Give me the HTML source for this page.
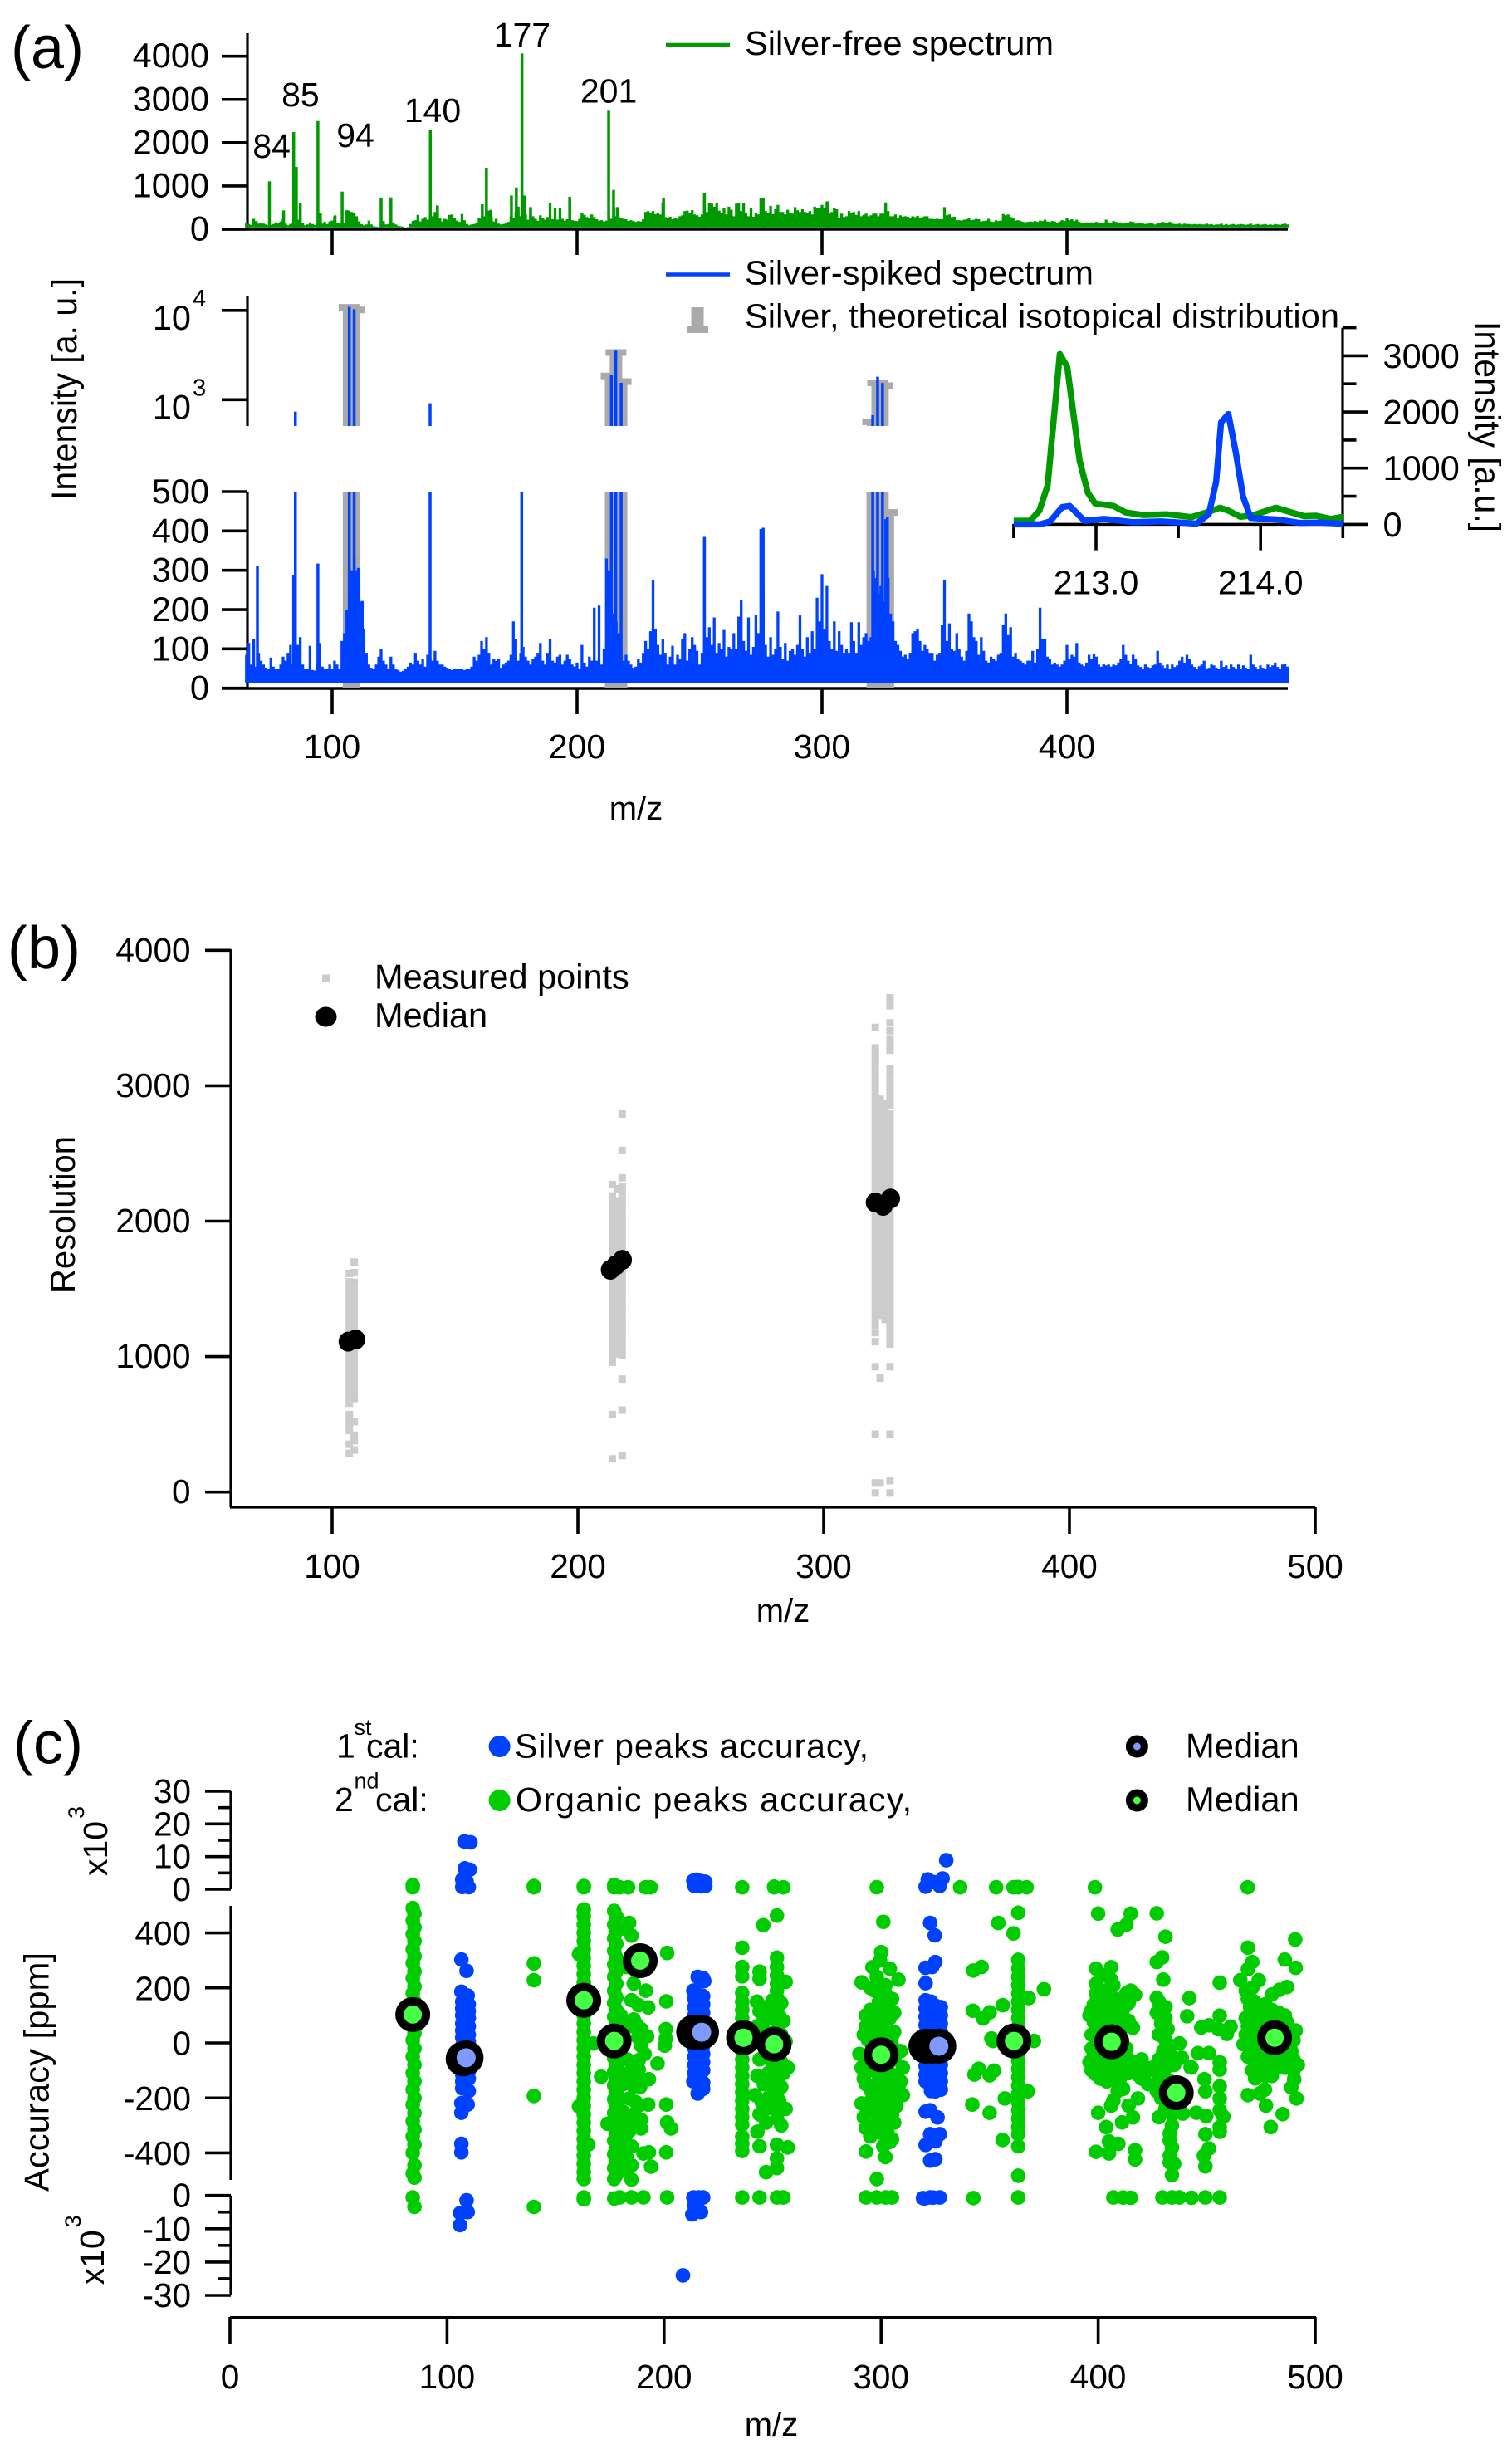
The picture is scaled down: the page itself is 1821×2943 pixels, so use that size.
<!DOCTYPE html>
<html lang="en">
<head>
<meta charset="utf-8">
<title>Mass spectra, resolution and accuracy</title>
<style>
html,body{margin:0;padding:0;background:#fff;}
svg{display:block;}
text{font-family:"Liberation Sans",Arial,sans-serif;fill:#000;}
</style>
</head>
<body>
<svg id="chart" xmlns="http://www.w3.org/2000/svg" width="1821" height="2943" viewBox="0 0 1821 2943">
<defs>
<clipPath id="clip-log"><rect x="290" y="340" width="1270" height="173"/></clipPath>
<clipPath id="clip-lin"><rect x="290" y="592" width="1270" height="246"/></clipPath>
<clipPath id="clip-inset"><rect x="1215" y="394" width="402" height="245"/></clipPath>
</defs>
<rect x="0" y="0" width="1821" height="2943" fill="#fff"/>

<g id="panel-a">
<text x="13" y="82" font-size="72">(a)</text>
<line x1="298" y1="40" x2="298" y2="276" stroke="#000" stroke-width="3.2"/>
<line x1="267" y1="276" x2="1551" y2="276" stroke="#000" stroke-width="3.5"/>
<line x1="298" y1="356" x2="298" y2="513" stroke="#000" stroke-width="3.2"/>
<line x1="298" y1="592" x2="298" y2="829" stroke="#000" stroke-width="3.2"/>
<line x1="267" y1="829" x2="1551" y2="829" stroke="#000" stroke-width="3.5"/>
<text x="0" y="0" transform="translate(92,602) rotate(-90)" font-size="43" textLength="267" lengthAdjust="spacingAndGlyphs">Intensity [a. u.]</text>
<text x="766" y="987" font-size="40" text-anchor="middle">m/z</text>
<g id="a-marks"></g>
<line x1="802" y1="54" x2="879" y2="54" stroke="#009900" stroke-width="4.5"/>
<text x="897" y="66" font-size="41" textLength="372" lengthAdjust="spacingAndGlyphs">Silver-free spectrum</text>
<line x1="802" y1="330.5" x2="879" y2="330.5" stroke="#0040ff" stroke-width="4.5"/>
<text x="897" y="342.5" font-size="41" textLength="420" lengthAdjust="spacingAndGlyphs">Silver-spiked spectrum</text>
<rect x="832.5" y="370" width="15" height="24" fill="#aaa"/>
<rect x="828" y="393" width="25" height="8" fill="#aaa"/>
<text x="897" y="394.6" font-size="41" textLength="716" lengthAdjust="spacingAndGlyphs">Silver, theoretical isotopical distribution</text>
<line x1="1221" y1="631.4" x2="1617" y2="631.4" stroke="#000" stroke-width="3.5"/>
<line x1="1617" y1="394.6" x2="1617" y2="633" stroke="#000" stroke-width="3.2"/>
<g id="inset-marks"></g>
<text x="0" y="0" transform="translate(1777,387) rotate(90)" font-size="43" textLength="254" lengthAdjust="spacingAndGlyphs">Intensity [a.u.]</text>
</g>

<g id="panel-b">
<text x="9" y="1166" font-size="72">(b)</text>
<line x1="278" y1="1143" x2="278" y2="1815" stroke="#000" stroke-width="3.2"/>
<line x1="277" y1="1815" x2="1584" y2="1815" stroke="#000" stroke-width="3.2"/>
<text x="0" y="0" transform="translate(90,1557) rotate(-90)" font-size="42" textLength="189" lengthAdjust="spacingAndGlyphs">Resolution</text>
<text x="943" y="1953" font-size="40" text-anchor="middle">m/z</text>
<rect x="388" y="1173.5" width="9" height="9" fill="#ccc"/>
<text x="451" y="1190.5" font-size="41.5">Measured points</text>
<ellipse cx="392.5" cy="1224.5" rx="13" ry="12" fill="#000"/>
<text x="451" y="1237" font-size="41.5">Median</text>
<g id="b-marks"></g>
</g>

<g id="panel-c">
<text x="16" y="2123.5" font-size="72">(c)</text>
<line x1="278" y1="2157" x2="278" y2="2275" stroke="#000" stroke-width="3.2"/>
<line x1="278" y1="2295" x2="278" y2="2625" stroke="#000" stroke-width="3.2"/>
<line x1="278" y1="2643.7" x2="278" y2="2764" stroke="#000" stroke-width="3.2"/>
<line x1="277" y1="2790.6" x2="1585" y2="2790.6" stroke="#000" stroke-width="3.2"/>
<g transform="translate(129,2259) rotate(-90)">
<text x="0" y="0" font-size="41">x10</text><text x="69" y="-28" font-size="27">3</text>
</g>
<g transform="translate(125,2751.4) rotate(-90)">
<text x="0" y="0" font-size="41">x10</text><text x="69" y="-28" font-size="27">3</text>
</g>
<text x="0" y="0" transform="translate(58.5,2639) rotate(-90)" font-size="41.5" textLength="288" lengthAdjust="spacingAndGlyphs">Accuracy [ppm]</text>
<text x="929" y="2933" font-size="40" text-anchor="middle">m/z</text>
<text x="405" y="2116.6" font-size="41">1</text>
<text x="426.5" y="2089" font-size="27">st</text>
<text x="441" y="2116.6" font-size="41">cal:</text>
<text x="403" y="2181" font-size="41">2</text>
<text x="426.5" y="2153.5" font-size="27">nd</text>
<text x="452" y="2181" font-size="41">cal:</text>
<circle cx="601.6" cy="2103" r="13" fill="#0040ff"/>
<circle cx="601.6" cy="2168" r="13" fill="#00cc00"/>
<text x="620" y="2116.6" font-size="41" textLength="426">Silver peaks accuracy,</text>
<text x="621" y="2181" font-size="41" textLength="477">Organic peaks accuracy,</text>
<circle cx="1369.4" cy="2103" r="9" fill="#8099ff" stroke="#000" stroke-width="9"/>
<circle cx="1369.4" cy="2168" r="9" fill="#44ff44" stroke="#000" stroke-width="9"/>
<text x="1428" y="2116.6" font-size="41.7">Median</text>
<text x="1428" y="2181" font-size="41.7">Median</text>
<g id="c-marks"></g>
</g>
</svg>

<script>
// ---------- Panel (a) data ----------
const topTicks = [0, 1000, 2000, 3000, 4000];
const linearTicks = [0, 100, 200, 300, 400, 500];
const logTicks = [1000, 10000];
const logExponents = ['3', '4'];
const spectrumMzTicks = [100, 200, 300, 400];
const peakLabelMz = ['84', '85', '94', '140', '177', '201'];
const peakLabelIntensity = [1651, 2842, 1900, 2477, 4224, 2930];
const peakLabelCenterMz = [75.3, 87.1, 109.5, 141, 177.6, 212.9];

const spectrumStartMz = 65;
const greenEnvelope = [
160,120,100,240,190,130,150,130,110,90,100,120,160,140,180,240,130,90,120,150,
160,220,300,140,90,110,160,120,100,130,260,130,170,120,180,200,290,150,140,110,
150,440,430,400,380,300,180,120,90,110,200,110,70,60,50,120,190,110,120,150,
160,110,80,70,60,40,50,120,190,210,330,180,240,280,220,260,300,400,540,260,
180,240,220,330,340,260,200,170,350,210,120,90,110,120,150,250,240,300,220,430,
300,180,240,130,110,120,150,170,300,250,400,520,300,620,340,220,460,300,240,200,
320,250,220,280,600,230,500,220,490,240,200,230,660,210,200,190,240,380,330,280,
260,340,280,230,200,210,180,200,260,240,500,300,280,260,240,230,190,210,190,170,
190,180,230,400,420,390,420,350,380,340,620,280,260,290,230,260,240,300,320,420,
430,380,440,340,320,290,340,720,400,600,590,520,600,430,370,480,340,520,450,300,
590,600,420,610,380,300,500,290,380,340,730,350,420,380,540,350,460,560,400,400,
340,450,380,360,510,440,400,460,400,380,420,340,520,500,480,560,480,640,360,400,
480,460,270,360,280,300,420,380,400,330,420,300,330,360,300,320,360,360,300,360,
360,620,420,300,300,340,260,320,290,300,290,260,300,280,310,270,280,300,300,240,
240,230,240,230,230,510,320,340,280,290,210,210,200,220,230,260,210,220,240,230,
180,190,200,240,180,170,210,190,200,350,320,340,280,250,200,210,190,170,160,170,
180,170,190,170,200,190,220,180,170,190,180,150,180,210,190,250,210,230,190,220,
170,150,140,160,150,160,140,170,150,150,140,220,160,150,190,170,140,160,130,150,
140,180,170,130,140,140,130,120,130,150,130,110,150,140,170,160,150,170,130,120,
120,130,110,130,120,120,110,120,110,120,110,110,130,110,120,100,110,110,130,100,
120,100,110,120,100,110,120,110,100,110,130,100,110,120,100,110,120,100,110,100,
120,110,100,120,130,110];
const greenPeakMz = [74.4,80.2,84.3,85.4,87,94.2,95.2,101.2,104.1,120,124,140.1,143,161.3,163,164.8,173.2,175.2,177.5,178.5,181,197,212.9,214.9,216.4,235.3,252,276,302.4];
const greenPeakIntensity = [1107,435,2246,1440,608,2500,370,320,870,717,736,2304,550,576,1420,448,780,966,4064,780,512,750,2740,910,512,730,832,730,646];

const blueEnvelope = [
85,115,60,125,55,90,70,60,52,48,78,55,48,50,60,80,70,90,110,60,
120,110,130,60,50,48,108,46,45,60,115,55,48,50,60,48,70,60,50,120,
140,200,250,300,340,300,270,220,150,90,60,52,50,60,80,100,70,60,50,80,
60,48,46,42,44,48,55,65,60,90,70,60,75,55,85,80,70,95,70,60,
60,55,52,50,46,50,48,50,48,46,50,48,55,80,70,85,120,100,130,90,
60,75,70,75,52,60,65,70,85,170,125,70,90,105,80,70,60,75,80,90,
115,70,60,90,125,70,65,80,85,60,70,85,75,60,55,65,50,110,65,55,
80,70,205,70,210,60,100,330,300,160,190,170,140,90,70,85,70,60,52,55,
75,65,90,120,100,145,275,150,110,85,125,90,60,80,108,60,85,75,125,140,
70,100,130,110,95,60,90,380,130,155,110,180,90,115,100,148,80,105,100,140,
100,182,225,120,95,180,85,105,186,140,405,260,110,80,130,85,100,195,105,75,
115,70,95,100,85,110,185,100,80,130,90,145,100,230,170,290,150,260,120,100,
170,95,145,110,90,100,90,168,120,90,168,110,130,140,120,130,300,280,240,260,
220,430,280,190,170,120,110,95,80,85,75,90,140,145,150,120,95,110,100,90,
90,70,85,90,160,275,120,165,100,95,140,100,80,70,95,190,170,130,120,85,
130,95,70,65,80,75,70,85,90,160,190,135,155,80,90,75,70,65,60,70,
70,95,65,100,205,125,125,80,75,60,65,60,55,60,70,110,75,85,80,115,
65,60,56,65,85,75,88,80,60,55,62,58,60,55,60,58,65,75,110,85,
70,62,85,75,58,54,50,60,54,52,58,60,95,65,58,52,60,50,60,54,
58,70,80,65,85,75,60,54,50,56,60,70,50,52,60,58,52,50,70,54,
58,50,60,54,50,60,50,58,52,50,85,60,54,50,58,52,50,60,54,58,
65,54,50,60,62,55];
const bluePeakMz = [69.5,84.3,85,94.2,107,109,110.7,112.3,140,177.4,214,215.8,218,252,276,320.7,322.7,324.7,326.7];
const bluePeakIntensity = [310,288,735,317,10970,10300,306,222,912,505,1916,3540,1545,385,408,670,1808,1540,435];

const silverMz = [106.9,109.0,213.9,215.9,218.0,320.7,322.7,324.7,326.9];
const silverIntensity = [10820,10120,1845,3376,1592,566,1545,1435,447];

// Inset
const insetTicksMajor = [213, 214];
const insetTickLabels = ['213.0', '214.0'];
const insetTicksMinor = [212.5, 213.5, 214.5];
const insetYTicks = [0, 1000, 2000, 3000];
const insetYMinor = [500, 1500, 2500, 3500];
const insetGreenMz = [212.5,212.6,212.656,212.706,212.78,212.825,212.9,212.95,212.994,213.107,213.18,213.285,213.433,213.58,213.685,213.754,213.804,213.878,213.953,214.092,214.264,214.338,214.427,214.5];
const insetGreenI = [64,64,244,692,3029,2805,1138,564,372,327,212,167,179,128,224,295,244,135,160,295,147,154,96,135];
const insetBlueMz = [212.5,212.66,212.72,212.795,212.84,212.93,213.05,213.225,213.4,213.61,213.685,213.73,213.76,213.804,213.85,213.893,213.94,214.116,214.234,214.353,214.5];
const insetBlueI = [0,0,51,308,327,64,96,38,51,13,179,756,1814,1962,1269,500,115,83,26,32,13];

// ---------- Panel (b) data ----------
const resolutionYTicks = [0, 1000, 2000, 3000, 4000];
const resolutionXTicks = [100, 200, 300, 400, 500];
const resolutionMz = [107,109,214,216,218,321,323,325,327];
const res107 = [1614,1552,1498,1447,1391,1340,1288,1233,1180,1127,1075,1021,970,918,866,812,760,706,656,572,540,504,454,353,286];
const res109 = [1698,1620,1547,1490,1438,1384,1330,1275,1222,1168,1115,1062,1010,955,900,848,795,741,690,520,420,380,310];
const res214 = [2270,2186,2131,2077,2023,1970,1915,1860,1806,1752,1699,1645,1590,1537,1484,1430,1376,1322,1270,1215,1160,1107,1052,1000,958,572,245];
const res216 = [2240,2150,2095,2040,1985,1930,1875,1820,1765,1710,1655,1600,1545,1490,1435,1380,1325,1270,1215,1160,1105,1050,1020];
const res218 = [2791,2522,2320,2253,2220,2165,2110,2055,2000,1945,1890,1835,1780,1725,1670,1615,1560,1505,1450,1395,1340,1285,1230,1175,1120,1065,1009,834,605,269];
const res321 = [3430,3279,3228,3175,3120,3066,3012,2958,2905,2850,2796,2742,2688,2634,2580,2526,2472,2421,2368,2314,2260,2206,2152,2098,2044,1990,1936,1882,1828,1774,1720,1666,1612,1558,1504,1450,1396,1342,1288,1234,1177,1110,925,427,67,-7];
const res323 = [2900,2845,2790,2735,2680,2625,2570,2515,2460,2405,2350,2295,2240,2185,2130,2075,2020,1965,1910,1855,1800,1745,1690,1635,1580,1525,1470,1415,1360,1305,841,67];
const res325 = [2870,2815,2760,2705,2650,2595,2540,2485,2430,2375,2320,2265,2210,2155,2100,2045,1990,1935,1880,1825,1770,1715,1660,1605,1550,1495,1440,1385,1330,1275];
const res327 = [3649,3590,3464,3405,3346,3296,3262,3128,3075,3020,2965,2910,2859,2790,2735,2680,2625,2570,2515,2460,2405,2350,2295,2240,2185,2130,2075,2020,1965,1910,1855,1800,1745,1690,1635,1580,1525,1470,1415,1360,1305,1250,1197,1143,1093,925,427,84,-7];
const medianMzB = [106.5,109.6,213.2,215.5,218.1,321,324.2,327.2];
const medianResB = [1110,1126,1641,1675,1714,2138,2113,2167];

// ---------- Panel (c) data ----------
const accuracyXTicks = [0, 100, 200, 300, 400, 500];
const accuracyTopTicks = [0, 10, 20, 30];
const accuracyTopMinor = [5, 15, 25];
const accuracyMidTicks = [-400, -200, 0, 200, 400];
const accuracyBottomTicks = [0, -10, -20, -30];
const accuracyBottomMinor = [-5, -15, -25];

const organicColumnMz = [84.2, 85, 163, 177, 178, 236, 252, 363.2];
const col84a = [600,1270,490,445,395,340,290,235,180,120,65,10,-50,-110,-170,-225,-285,-340,-400,-475,-600];
const col84b = [470,420,370,315,260,205,150,95,35,-20,-80,-140,-200,-255,-315,-370,-445,-490,-3450];
const col163 = [600,1000,485,460,430,400,370,340,310,280,250,220,190,160,130,100,70,40,10,-20,-50,-80,-110,-140,-170,-200,-230,-260,-290,-320,-350,-380,-410,-440,-470,-495,-600,-1200];
const col177a = [1300,600,480,430,380,335,285,240,190,145,95,45,-5,-55,-105,-155,-205,-255,-305,-355,-405,-455,-495,-900];
const col177b = [460,405,360,310,260,215,165,120,70,20,-30,-80,-130,-180,-230,-280,-330,-380,-430,-480];
const col236 = [600,346,276,242,181,150,120,90,60,30,0,-30,-60,-90,-120,-150,-180,-210,-240,-270,-297,-341,-367,-393,-600];
const col252 = [463,310,276,245,215,190,165,135,105,80,50,20,-10,-40,-70,-100,-130,-160,-195,-225,-245,-275];
const col363 = [700,600,473,302,270,240,210,180,150,120,90,60,30,-5,-35,-65,-95,-125,-155,-185,-215,-245,-275,-306,-332,-376,-483,-600];
const organicColumnPpm = [col84a, col84b, col163, col177a, col177b, col236, col252, col363];

const organicPoints = [
[140,289],[140,228],[140,-193],[140,600],[140,1000],[140,-3450],[160.8,323],[160.8,-231],[165,-370],
[183.9,436],[185,390],[178.4,416],[181.7,416],[186,303],[182.8,276],[186,216],[191.6,190],[185,155],[188.3,137],[192.7,129],[186,85],[189.4,50],[192.2,24],[189.4,-10],[188.3,-63],[197,-75],[188.3,-97],[182.8,-115],[187.2,-132],[193,-132],[186,-158],[184,-202],[192.7,-224],[188.3,-228],[184,-280],[189.4,-280],[189.4,-311],[185,-376],[190.5,-402],[193,-398],[185,-445],[194,-450],[185,-497],[171,-123],[174,-294],[167.4,-2],
[180,100],[182,80],[184,60],[180,30],[183,-60],[179,-100],[181,-150],[179,-200],[181,-250],[180,-300],[182,-350],[180,-400],[183,-420],[181,-460],[184,-320],[186,-260],[187,-215],[185,-100],[189,-160],[191,-40],[188,20],[187,70],
[201.4,327],[201,151],[200.8,50],[200.8,16],[200.3,-10],[201,-224],[201.4,-289],[203.2,-311],[201,-398],
[179.5,600],[183.4,600],[191.5,600],[193.8,600],[179.5,-580],[185,-580],[190.5,-580],[201.4,-580],
[245.7,428],[243,-323],[244,-376],[244,-600],[252,-600],[255,-600],[255,600],[250.7,800],[250.7,600],[244,259],[244,233],[256,222],
[242.8,150],[247,130],[250,155],[254,145],[244,115],[248,90],[255,80],[243,60],[246,45],[254,30],[256,5],[244,-60],[247,-35],[250,-80],[254,-70],[257,-90],[243,-120],[246,-150],[255,-110],[242,-190],[245,-215],[250,-170],[253,-210],[256,-240],[244,-260],[247,-290],[257,-380],[252,-420],[252,-455],[247,-470],[252,-370],
[245,70],[249,120],[253,100],[246,0],[249,-10],[255,-20],[248,-110],[251,-140],[254,-160],[248,-200],[247,-240],[254,-300],
[298,620],[301,440],[300,330],[299.5,300],[296,275],[304,270],[291,220],[308,230],[298,240],[302,210],[297,190],[301,180],[305,160],[299,150],[303,130],[295,120],[300,110],[304,90],[297,70],[293,60],[301,50],[306,40],[298,25],[294,10],[303,5],[290,-40],[296,-30],[300,-20],[305,-10],[291,-90],[297,-75],[302,-70],[306,-60],[292,-130],[299,-120],[304,-110],[309,-140],[295,-170],[301,-160],[307,-180],[298,-210],[303,-200],[310,-190],[291,-220],[296,-250],[302,-240],[307,-230],[292,-270],[299,-280],[305,-260],[293,-310],[300,-300],[303,-330],[305,-350],[293,-395],[301,-375],[304,-360],[302,-415],[298,-495],[293,-600],[298,-600],[302,-600],[305,-600],
[295,200],[299,210],[303,170],[293,100],[297,100],[301,80],[306,110],[292,30],[296,20],[300,10],[305,25],[309,-30],[293,-60],[299,-50],[304,-35],[310,-90],[295,-100],[300,-90],[306,-120],[293,-150],[298,-150],[303,-140],[308,-160],[296,-200],[301,-190],[306,-210],[294,-230],[299,-240],[304,-225],[297,-300],[301,-270],[306,-290],[295,-340],[299,-325],
[342.5,263],[346.3,276],[342.3,117],[347,89],[350,111],[356,137],[350.8,16],[351.5,7],[370.4,7],[343,-115],[345,-94],[350,-118],[352,-101],[342,-224],[350,-254],[356,-353],[357,-202],[342.5,-800],[353,600],[354,436],[361,398],[361,600],[336.4,600],[367,600],[375,195],[368,163],[367.6,-176],
[398.5,600],[400,470],[415,470],[413,430],[409,412],[399,270],[406,275],[399,215],[402,245],[406,230],[397,120],[399,180],[401,160],[403,190],[405,140],[407,210],[409,130],[411,105],[413,180],[415,190],[417,175],[396,100],[398,75],[400,50],[402,85],[404,60],[406,35],[408,70],[410,45],[412,60],[414,80],[416,55],[397,-20],[399,-5],[401,15],[403,-25],[409,-15],[411,10],[413,-20],[396,-70],[398,-40],[400,-60],[402,-75],[404,-50],[406,-85],[408,-55],[410,-70],[412,-45],[414,-60],[399,-115],[403,-100],[405,-130],[408,-110],[412,-100],[416,-95],[418,-115],
[398,140],[402,130],[406,110],[410,95],[400,100],[404,100],[408,160],[412,130],[414,145],[397,30],[401,40],[405,10],[408,20],[397,-100],[400,-100],[403,-70],[406,-40],[409,-90],[411,-70],[398,-90],[401,-130],[404,-140],[407,-130],[410,-130],[414,-110],[418,-70],[421,-90],
[400,-254],[403.7,-306],[406,-228],[411.5,-167],[416,-271],[411,-289],[405,-358],[409.3,-367],[417,-390],[417,-424],[399,-396],[405,-402],[407,-210],[409,-175],[414,-228],[418.3,-202],[407,-600],[411.5,-620],[415,-700],
[427,471],[431,386],[429.5,311],[427,294],[430,230],[427,163],[442,163],[441,97],
[428,150],[431,130],[427,110],[431,90],[429,70],[432,50],[428,30],[431,10],[433,-10],[430,-30],[434,-50],[428,-60],[432,-85],[435,-80],[430,-110],[428,-130],[433,-140],[427,-175],[431,-165],[429,-200],[433,-215],[436,-200],[431,-240],[434,-260],[428,-270],[434,-300],[433,-330],[433,-355],[434,-380],[433,-410],[433,-435],[435,-440],[434,-480],
[420,-60],[423,-100],[425,-90],[420,-130],[423,-150],
[456,219],[456,99],[447.5,56],[451,64],[461,59],[455.4,50],[459.3,33],[446,-37],[451,-37],[456,-71],[456,-97],[442.6,-89],[449,-132],[456,-158],[456,-202],[456,-245],[457.7,-268],[456,-306],[456,-323],[449.4,-176],[445.3,-254],[449.8,-266],[439,-257],[449.4,-332],[451,-384],[448.7,-410],[449.4,-449],[437.4,-2],[432,-19],[438.5,-54],[443,-89],
[429.6,-600],[434,-600],[437.4,-600],[443,-700],[449.4,-600],[456,-600],
[468.9,600],[469,346],[471,294],[490.8,376],[486,303],[491,273],[469,268],[465.5,228],[474,228],[487,203],[483.5,193],[480,176],
[468,190],[471,200],[469,160],[472,150],[470,130],[473,110],[468,90],[471,75],[474,60],[477,140],[480,120],[483,110],[486,100],[476,90],[479,80],[482,60],[485,50],[488,35],[491,45],[468,30],[471,10],[467,-5],[474,20],[477,5],[480,-20],[483,-5],[486,0],[489,-30],[469,-50],[472,-40],[475,-60],[478,-50],[481,-65],[484,-70],[487,-55],[490,-60],[473,-80],[476,-90],[479,-100],[482,-90],
[470,100],[473,90],[475,130],[478,110],[481,90],[484,80],[487,75],[469,60],[472,40],[475,30],[478,30],[481,30],[484,20],[487,10],[490,10],[470,-20],[473,-20],[476,-20],[479,-25],[482,-35],[485,-35],[488,-60],[474,-100],[477,-120],[480,-120],[471,-100],[486,-90],[490,-100],
[492,-80],[490.3,-132],[489,-162],[491.4,-202],[476.8,-170],[472.3,-129],[469,-190],[474.5,-184],[477.3,-228],[485,-259],[479.5,-306]
];

const silverDenseMz = [107,110,214,216,218,320.5,323,325,327.5];
const silver107 = [150,125,100,70,45,20,-10,-35,-60,-90,-115,-140,-165];
const silver110 = [140,115,90,60,30,5,-25,-50,-80,-105,-130,-175];
const silver214 = [190,160,130,100,70,40,10,-20,-50,-80,-110,-140];
const silver216 = [165,135,105,75,45,15,-15,-45,-75,-105,-178];
const silver218 = [235,170,140,110,80,50,20,-10,-40,-70,-100,-145];
const silver321 = [155,125,95,65,35,5,-25,-55,-85,-115,-140];
const silver323 = [150,120,90,60,30,0,-30,-60,-90,-120,-150,-175];
const silver325 = [135,105,75,45,15,-15,-45,-75,-105,-135,-165];
const silver327 = [130,100,70,40,10,-20,-50,-80,-110,-140,-170];
const silverDensePpm = [silver107,silver110,silver214,silver216,silver218,silver321,silver323,silver325,silver327];
const silverPoints = [
[108,14650],[110.8,14400],[108.2,6400],[110.5,6000],[107,3000],[109,2400],[107,700],[110,650],
[106.6,303],[109,262],[106.6,186],[109.5,172],[106.6,-219],[109.5,-224],[106.6,-254],[106.6,-367],[106.6,-398],
[109,-1450],[106,-5300],[109.5,-5000],[106,-8900],
[213.5,2600],[215,2900],[217,2500],[219,2300],[214,1000],[217,900],[219,1000],
[215.5,240],[218.5,225],[213.5,190],[217.5,172],[213.5,-140],[218,-167],[215.5,-184],
[213.5,-600],[216,-600],[218,-600],[213,-5700],[217,-5000],[214,-3000],[216,-1500],[208.7,-24000],
[330,8900],[321.5,3000],[328.3,3300],[327,1000],[320.5,800],[324,2200],[322.6,436],[324.7,391],[325,294],[320.5,273],[323.5,276],[320.5,217],
[325,-176],[322.6,-245],[326,-271],[320.5,-250],[322.6,-332],[327,-332],[320.5,-371],[325,-358],[322.6,-428],[325,-423],
[319.3,-800],[322.6,-600],[327,-600],[320,-900],[324,-650]
];

const organicMedianMz = [84.2,163,177,189,236.6,250.7,300,361.2,406.2,436,481.3];
const organicMedianPpm = [103,155,7,299,19,-5,-43,7,4,-181,19];
const silverMedianMz = [107.4,108.8,213.6,217.3,320.6,323.5,326.6];
const silverMedianPpm = [-58,-54,39,39,-12,-12,-12];
const silverMedianHighlight = [108.8,217.3,326.6];

// ---------- Scales ----------
const xA = m => 400 + (m - 100) * 2.95;
const yTop = v => 276 - v * 0.05208;
const yLog = v => 481.3 - (Math.log10(v) - 3) * 107.5;
const yLin = v => 828.7 - v * 0.4734;
const xI = m => 1320 + (m - 213) * 198.2;
const yI = v => 631.4 - v * 0.06767;
const xB = m => 400 + (m - 100) * 2.96;
const yB = v => 1796.7 - v * 0.1631;
const xC = m => 277 + m * 2.614;
const yC = v => v >= 500 ? 2275 - v * 0.00393 : (v <= -500 ? 2643.7 - v * 0.00401 : 2460 - v * 0.3312);

// ---------- Helpers ----------
const NS = 'http://www.w3.org/2000/svg';
function mk(parent, tag, attrs) {
  const el = document.createElementNS(NS, tag);
  for (const k in attrs) el.setAttribute(k, attrs[k]);
  parent.appendChild(el);
  return el;
}
function axisTick(parent, x1, y1, x2, y2) {
  const el = mk(parent, 'line', {x1, y1, x2, y2, stroke: '#000', 'stroke-width': 3.6});
  
  
  return el;
}
function tickLabel(parent, x, y, txt, anchor, size) {
  const el = mk(parent, 'text', {x, y, 'text-anchor': anchor, 'font-size': size || 40.5});
  el.textContent = txt;
  
  
  return el;
}
function sticksPath(values, startMz, xf, yf, base) {
  let d = '';
  values.forEach((v, i) => {
    const x = xf(startMz + i).toFixed(1);
    d += 'M' + x + ' ' + yf(base).toFixed(1) + 'V' + yf(v).toFixed(1);
  });
  return d;
}

// ---------- Draw panel (a) ----------
const aG = document.getElementById('a-marks');
topTicks.forEach(v => {
  axisTick(aG, 267, yTop(v), 298, yTop(v));
  tickLabel(aG, 252, yTop(v) + 13.5, String(v), 'end', 41.5);
});
linearTicks.forEach(v => {
  axisTick(aG, 267, yLin(v), 298, yLin(v));
  tickLabel(aG, 252, yLin(v) + 14, String(v), 'end', 41.5);
});
logTicks.forEach((v, i) => {
  axisTick(aG, 267, yLog(v), 298, yLog(v));
  tickLabel(aG, 230, yLog(v) + 23, '10', 'end', 41.5);
  tickLabel(aG, 232, yLog(v) - 5, logExponents[i], 'start', 29);
});
spectrumMzTicks.forEach(m => {
  axisTick(aG, xA(m), 276, xA(m), 307);
  axisTick(aG, xA(m), 829, xA(m), 860);
  tickLabel(aG, xA(m), 913, String(m), 'middle', 41);
});

const greenPath = mk(aG, 'path', {d: sticksPath(greenEnvelope, spectrumStartMz, xA, yTop, 40), stroke: '#009900', 'stroke-width': 3.3, fill: 'none'});


greenPeakMz.forEach((m, i) => {
  const p = mk(aG, 'line', {x1: xA(m), y1: yTop(40), x2: xA(m), y2: yTop(greenPeakIntensity[i]), stroke: '#009900', 'stroke-width': 3.5});
  
  
});
peakLabelMz.forEach((t, i) => {
  const el = mk(aG, 'text', {x: xA(peakLabelCenterMz[i]), y: yTop(peakLabelIntensity[i]), 'text-anchor': 'middle', 'font-size': 41});
  el.textContent = t;
  
  
});

const logG = mk(aG, 'g', {'clip-path': 'url(#clip-log)'});


const linG = mk(aG, 'g', {'clip-path': 'url(#clip-lin)'});



silverMz.forEach((m, i) => {
  const x = xA(m), v = silverIntensity[i];
  const s1 = mk(logG, 'rect', {x: x - 7.5, y: yLog(v), width: 15, height: Math.max(0, 520 - yLog(v)), fill: '#aaa'});
  
  
  const c1 = mk(logG, 'rect', {x: x - 12.5, y: yLog(v) - 4, width: 25, height: 8, fill: '#aaa'});
  
  
  const s2 = mk(linG, 'rect', {x: x - 7.5, y: yLin(v), width: 15, height: yLin(0) - yLin(v), fill: '#aaa'});
  
  
  const c2 = mk(linG, 'rect', {x: x - 12.5, y: yLin(v) - 4, width: 25, height: 8, fill: '#aaa'});
  
  
});
const bluePath = mk(linG, 'path', {d: sticksPath(blueEnvelope, spectrumStartMz, xA, yLin, 14), stroke: '#0040ff', 'stroke-width': 3.3, fill: 'none'});


bluePeakMz.forEach((m, i) => {
  const v = bluePeakIntensity[i];
  const p = mk(linG, 'line', {x1: xA(m), y1: yLin(14), x2: xA(m), y2: yLin(v), stroke: '#0040ff', 'stroke-width': 3.5});
  
  
  const q = mk(logG, 'line', {x1: xA(m), y1: 520, x2: xA(m), y2: yLog(v), stroke: '#0040ff', 'stroke-width': 3.5});
  
  
});

// Inset
const iG = document.getElementById('inset-marks');
insetYTicks.forEach(v => {
  axisTick(iG, 1617, yI(v), 1648, yI(v));
  tickLabel(iG, 1665.5, yI(v) + 14.5, String(v), 'start', 41.5);
});
insetYMinor.forEach(v => {
  axisTick(iG, 1617, yI(v), 1633.5, yI(v));
});
insetTicksMajor.forEach((m, i) => {
  axisTick(iG, xI(m), 631, xI(m), 662.6);
  tickLabel(iG, xI(m), 715.5, insetTickLabels[i], 'middle', 41);
});
insetTicksMinor.forEach(m => {
  axisTick(iG, xI(m), 631, xI(m), 648);
});
const insetClip = mk(iG, 'g', {'clip-path': 'url(#clip-inset)'});


const gLine = mk(insetClip, 'polyline', {points: insetGreenMz.map((m, i) => xI(m).toFixed(1) + ',' + yI(insetGreenI[i]).toFixed(1)).join(' '), fill: 'none', stroke: '#009900', 'stroke-width': 7.5, 'stroke-linejoin': 'round'});


const bLine = mk(insetClip, 'polyline', {points: insetBlueMz.map((m, i) => xI(m).toFixed(1) + ',' + yI(insetBlueI[i]).toFixed(1)).join(' '), fill: 'none', stroke: '#0040ff', 'stroke-width': 7.5, 'stroke-linejoin': 'round'});



// ---------- Draw panel (b) ----------
const bG = document.getElementById('b-marks');
resolutionYTicks.forEach(v => {
  axisTick(bG, 247, yB(v), 278, yB(v));
  tickLabel(bG, 229.5, yB(v) + 13.5, String(v), 'end');
});
resolutionXTicks.forEach(m => {
  axisTick(bG, xB(m), 1815, xB(m), 1847);
  tickLabel(bG, xB(m), 1900, String(m), 'middle');
});
[res107, res109, res214, res216, res218, res321, res323, res325, res327].forEach((col, c) => {
  col.forEach(v => {
    const r = mk(bG, 'rect', {x: xB(resolutionMz[c]) - 4.5, y: yB(v) - 4.5, width: 9, height: 9, fill: '#ccc'});
    
    
  });
});
medianMzB.forEach((m, i) => {
  const e = mk(bG, 'ellipse', {cx: xB(m), cy: yB(medianResB[i]), rx: 11.5, ry: 12, fill: '#000'});
  
  
});

// ---------- Draw panel (c) ----------
const cG = document.getElementById('c-marks');
accuracyXTicks.forEach(m => {
  axisTick(cG, xC(m), 2790, xC(m), 2822);
  tickLabel(cG, xC(m), 2876, String(m), 'middle');
});
accuracyTopTicks.forEach(v => {
  const y = 2275 - v * 3.933;
  axisTick(cG, 247, y, 278, y);
  tickLabel(cG, 230, y + 14, String(v), 'end');
});
accuracyTopMinor.forEach(v => {
  const y = 2275 - v * 3.933;
  axisTick(cG, 262, y, 278, y);
});
accuracyMidTicks.forEach(v => {
  axisTick(cG, 247, yC(v), 278, yC(v));
  tickLabel(cG, 230, yC(v) + 14.6, String(v), 'end');
});
accuracyBottomTicks.forEach(v => {
  const y = 2643.7 - v * 4.01;
  axisTick(cG, 247, y, 278, y);
  tickLabel(cG, 230, y + 14, String(v), 'end');
});
accuracyBottomMinor.forEach(v => {
  const y = 2643.7 - v * 4.01;
  axisTick(cG, 262, y, 278, y);
});
organicColumnPpm.forEach((col, c) => {
  col.forEach(v => {
    const d = mk(cG, 'circle', {cx: xC(organicColumnMz[c]), cy: yC(v), r: 8.8, fill: '#00cc00'});
    
    
  });
});
organicPoints.forEach(p => {
  const d = mk(cG, 'circle', {cx: xC(p[0]), cy: yC(p[1]), r: 8.8, fill: '#00cc00'});
  
  
});
silverDensePpm.forEach((col, c) => {
  col.forEach(v => {
    const d = mk(cG, 'circle', {cx: xC(silverDenseMz[c]), cy: yC(v), r: 8.8, fill: '#0040ff'});
    
    
  });
});
silverPoints.forEach(p => {
  const d = mk(cG, 'circle', {cx: xC(p[0]), cy: yC(p[1]), r: 8.8, fill: '#0040ff'});
  
  
});
silverMedianMz.forEach((m, i) => {
  const d = mk(cG, 'circle', {cx: xC(m), cy: yC(silverMedianPpm[i]), r: 21, fill: '#000'});
  
  
});
silverMedianMz.forEach((m, i) => {
  if (silverMedianHighlight.indexOf(m) < 0) return;
  const d = mk(cG, 'circle', {cx: xC(m), cy: yC(silverMedianPpm[i]), r: 11.5, fill: '#8099ff'});
  
  
});
organicMedianMz.forEach((m, i) => {
  const d = mk(cG, 'circle', {cx: xC(m), cy: yC(organicMedianPpm[i]), r: 16, fill: '#44ff44', stroke: '#000', 'stroke-width': 10});
  
  
});
</script>
</body>
</html>
